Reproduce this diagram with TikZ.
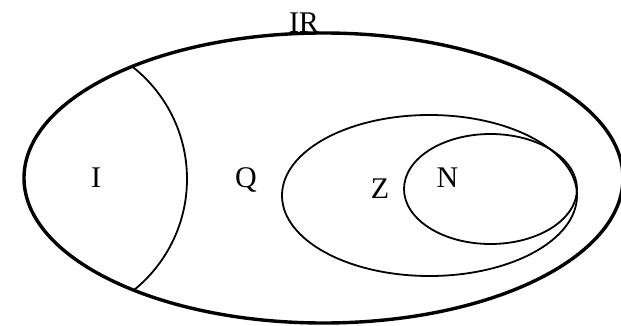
\documentclass[tikz,border=0pt]{standalone}
\usepackage{fontspec}
\setmainfont{Liberation Serif}
\usepackage{tikz}
\usetikzlibrary{calc}

\begin{document}
\begin{tikzpicture}[x=1pt,y=-1pt,
 thick line/.style={line width=3.4pt},
 thin line/.style={line width=1.8pt},
 setname/.style={anchor=base,inner sep=0pt,font=\fontsize{30}{36}\selectfont}]
\useasboundingbox (0,0) rectangle (621,326);

% outer set and the irrational part
\coordinate (r0) at (323.5,178);
\draw[thick line] (r0) ellipse (299.5 and 145);
\begin{scope}
\clip (r0) ellipse (299.5 and 145);
\draw[thin line] (44.3,179) circle (142.7);
\end{scope}

% nested sets
\draw[thin line] (429.5,195.5) ellipse (147.5 and 80.5);
\draw[thin line] (490.5,189) ellipse (86.5 and 55);

\node[setname] (lR) at (304,33) {IR};
\node[setname] (lI) at (96,187) {I};
\node[setname] (lQ) at (246,187) {Q};
\node[setname] (lZ) at (380,198) {Z};
\node[setname] (lN) at (447.5,187) {N};
\end{tikzpicture}
\end{document}
